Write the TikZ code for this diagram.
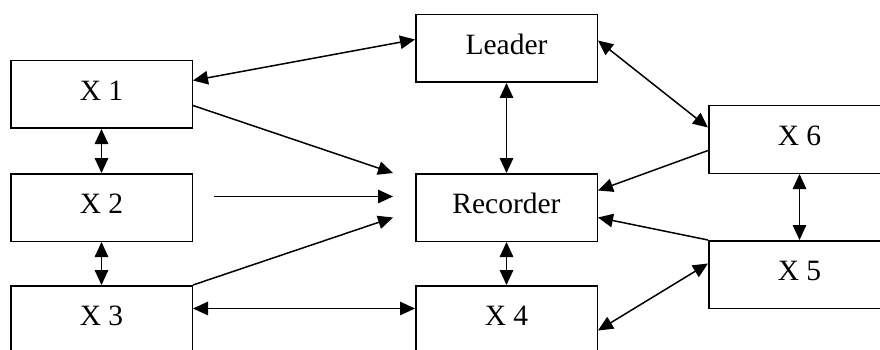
\documentclass[tikz,border=0pt]{standalone}
\usepackage{fontspec}
\setmainfont{Liberation Serif}
\usetikzlibrary{arrows.meta,calc}

\tikzset{
  unit/.style={draw, line width=1.5pt, rectangle, inner sep=0pt,
    minimum width=181.5pt, minimum height=67.5pt,
    text height=12pt, text depth=0pt, anchor=north west,
    font=\fontsize{29.5pt}{32pt}\selectfont},
  link/.style={line width=1.5pt, -{Triangle[length=15pt,width=13.5pt]}},
  twoway/.style={line width=1.5pt, {Triangle[length=15pt,width=13.5pt]}-{Triangle[length=15pt,width=13.5pt]}}
}

\begin{document}
\begin{tikzpicture}[x=1pt,y=-1pt]
  \useasboundingbox (0,0) rectangle (880,350);
  \clip (0,0) rectangle (880,350);

  % group members, leader and recorder
  \node[unit] (ldr) at (415,14)  {Leader};
  \node[unit] (x1)  at (10,60)   {X 1};
  \node[unit] (x2)  at (10,173)  {X 2};
  \node[unit] (x3)  at (10,285)  {X 3};
  \node[unit] (rec) at (415,173) {Recorder};
  \node[unit] (x4)  at (415,285) {X 4};
  \node[unit] (x6)  at (708,105) {X 6};
  \node[unit] (x5)  at (708,240) {X 5};

  % two-way links
  \draw[twoway] ($(x1.east)+(0,-14)$) -- ($(ldr.west)+(0,-9)$);
  \draw[twoway] (x1.south) -- (x2.north);
  \draw[twoway] (x2.south) -- (x3.north);
  \draw[twoway] ($(x3.east)+(0,-11)$) -- ($(x4.west)+(0,-11)$);
  \draw[twoway] (ldr.south) -- (rec.north);
  \draw[twoway] (rec.south) -- (x4.north);
  \draw[twoway] ($(ldr.east)+(0,-8)$) -- ($(x6.west)+(0,-12)$);
  \draw[twoway] ($(x4.east)+(0,11)$) -- ($(x5.west)+(0,-11)$);
  \draw[twoway] (x6.south) -- (x5.north);

  % reports to the recorder
  \draw[link] ($(x1.east)+(0,11)$) -- ($(rec.north west)+(-22,0)$);
  \draw[link] ($(x2.east)+(21,-11)$) -- ($(rec.west)+(-22,-11)$);
  \draw[link] (x3.north east) -- ($(rec.west)+(-22,10)$);
  \draw[link] ($(x6.west)+(0,11)$) -- ($(rec.east)+(0,-17)$);
  \draw[link] (x5.north west) -- ($(rec.east)+(0,10)$);
\end{tikzpicture}
\end{document}
